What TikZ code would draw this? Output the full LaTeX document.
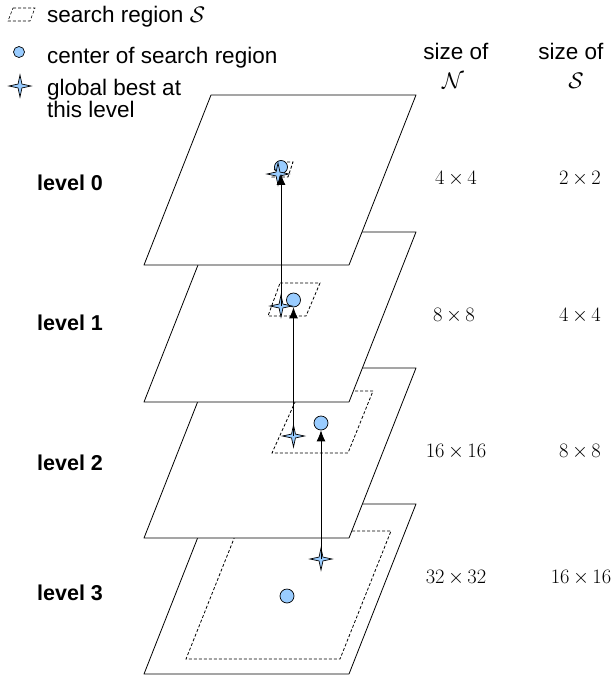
\documentclass[tikz,border=0pt]{standalone}
\usepackage{fix-cm}
\usepackage{fontspec}
\setmainfont{Liberation Sans}
\usetikzlibrary{shapes.geometric,arrows.meta}
\definecolor{cblue}{RGB}{153,204,255}
\begin{document}
\begin{tikzpicture}[x=1pt,y=-1pt,
  plane/.style={draw=black, fill=white, line width=0.8pt, line join=round},
  sregion/.style={draw=black, dash pattern=on 3pt off 2pt, line width=0.8pt},
  cmark/.style={circle, draw=black, fill=cblue, line width=0.7pt, minimum size=14pt, inner sep=0pt},
  gbest/.style={star, star points=4, star point ratio=4, draw=black, fill=cblue, line width=0.7pt, minimum size=22pt, inner sep=0pt},
  link/.style={draw=black, line width=0.8pt, -{Latex[length=11pt,width=9pt]}},
  txt/.style={font=\fontsize{22.5}{26}\selectfont, inner sep=0pt, anchor=base west},
  hdr/.style={font=\fontsize{22.5}{26}\selectfont, inner sep=0pt, anchor=base},
  lvl/.style={font=\fontsize{21.5}{26}\selectfont\bfseries, inner sep=0pt, anchor=base west},
  num/.style={font=\fontsize{20.5}{24}\selectfont, inner sep=0pt, anchor=base},
]
\useasboundingbox (0,0) rectangle (613,680);

% legend
\path[sregion, line width=0.6pt] (13,8) -- (35,8) -- (30,21) -- (8,21) -- cycle;
\node[txt] (leg1) at (47,22) {search region $\mathcal{S}$};
\node[cmark, minimum size=11pt] (legc) at (19,52) {};
\node[txt] (leg2) at (47,63) {center of search region};
\node[gbest] (legs) at (20,86) {};
\node[txt] (leg3) at (47,95) {global best at};
\node[txt] (leg4) at (47,117) {this level};

% column headers
\node[hdr] (h1) at (456,59) {size of};
\node[hdr] (h1b) at (453,88) {$\mathcal{N}$};
\node[hdr] (h2) at (571,59) {size of};
\node[hdr] (h2b) at (576,88) {$\mathcal{S}$};

% level 3
\path[plane] (211,504) -- (416,504) -- (349,674) -- (144,674) -- cycle;
\path[sregion] (237,531) -- (391,531) -- (340,659) -- (186,659) -- cycle;
\node[cmark] (c3) at (287,596) {};
\node[gbest] (s3) at (321,559) {};

% level 2
\path[plane] (211,368) -- (416,368) -- (349,538) -- (144,538) -- cycle;
\path[sregion] (300,391) -- (373,391) -- (348,453) -- (272,453) -- cycle;
\node[cmark] (c2) at (321,423) {};
\node[gbest] (s2) at (293.5,436) {};

% level 1
\path[plane] (211,232) -- (416,232) -- (349,402) -- (144,402) -- cycle;
\path[sregion] (280,283) -- (320,283) -- (306,316) -- (268,316) -- cycle;
\node[cmark] (c1) at (293.5,300) {};
\node[gbest] (s1) at (281,306) {};

% level 0
\path[plane] (211,95) -- (416,95) -- (349,265) -- (144,265) -- cycle;
\path[sregion] (277,162) -- (293,162) -- (288,177) -- (272,177) -- cycle;
\node[cmark, minimum size=13pt] (c0) at (281,167) {};
\node[gbest] (s0) at (278,174) {};

% links
\draw[link] (s3.center) -- (c2.south);
\draw[link] (s2.center) -- (c1.south);
\draw[link] (s1.center) -- (c0.south);

% level labels
\node[lvl] (L0) at (37,190) {level 0};
\node[lvl] (L1) at (37,330) {level 1};
\node[lvl] (L2) at (37,470) {level 2};
\node[lvl] (L3) at (37,600) {level 3};

% sizes
\node[num] (n0) at (456,184) {$4\,{\times}\,4$};
\node[num] (m0) at (580,184) {$2\,{\times}\,2$};
\node[num] (n1) at (454,321) {$8\,{\times}\,8$};
\node[num] (m1) at (580,321) {$4\,{\times}\,4$};
\node[num] (n2) at (456,457) {$16\,{\times}\,16$};
\node[num] (m2) at (580,457) {$8\,{\times}\,8$};
\node[num] (n3) at (456,583) {$32\,{\times}\,32$};
\node[num] (m3) at (581,583) {$16\,{\times}\,16$};
\end{tikzpicture}
\end{document}
